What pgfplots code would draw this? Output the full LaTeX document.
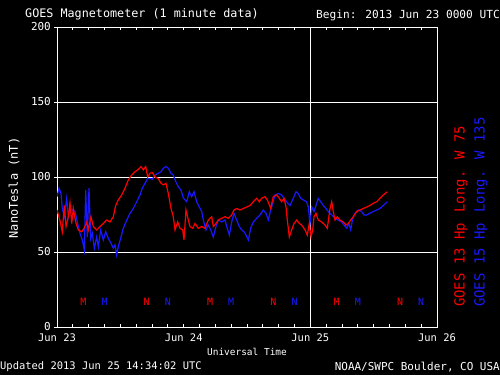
\documentclass[border=0pt]{standalone}
\usepackage{pgfplots}
\pgfplotsset{compat=1.18}
\usepackage{fontspec}
\setmainfont{DejaVu Sans Mono}
\definecolor{gred}{RGB}{255,0,0}
\definecolor{gblue}{RGB}{25,25,255}
\newcommand{\fs}[1]{\fontsize{#1}{#1}\selectfont}
\begin{document}
\begin{tikzpicture}
\useasboundingbox (-57bp,-48bp) rectangle (443bp,327bp);
\fill[black] (-57bp,-48bp) rectangle (443bp,327bp);
\begin{axis}[
  scale only axis, width=380bp, height=300bp,
  xmin=0, xmax=72, ymin=0, ymax=200,
  clip=true,
  axis line style={white, line width=0.9bp},
  xtick={0,24,48,72}, xticklabels={Jun 23,Jun 24,Jun 25,Jun 26},
  minor x tick num=7,
  ytick={0,50,100,150,200},
  ymajorgrids, grid style={white, line width=0.9bp},
  extra x ticks={48}, extra x tick labels={},
  extra x tick style={grid=major, grid style={white, line width=0.9bp}},
  xtick pos=both, xtick align=inside,
  ytick pos=left, ytick align=outside,
  major tick length=3bp, minor tick length=3bp,
  tick style={white, line width=0.8bp},
  /pgf/number format/assume math mode=true,
  xticklabel style={font=\fs{10.5}, text=white, anchor=center, yshift=-11bp, inner sep=0pt},
  yticklabel style={font=\fs{11}, text=white, anchor=east, inner sep=0pt, xshift=-3bp},
]
\addplot[gblue, line width=1.2bp] table {
0 86.9
0.38 92.5
0.76 89
1.0 79
1.38 73.5
1.84 85.8
2.14 73.5
2.46 79
2.90 78
3.41 77
3.92 69
4.36 62.5
4.79 58
5.17 51.3
5.44 91.3
5.74 60
6.06 92.5
6.39 59
6.69 62.5
7.07 52.5
7.52 60
7.83 53.5
8.28 64.7
8.77 58
9.23 63.5
9.72 59
10.23 55.8
10.67 52.5
10.99 54.7
11.31 48
11.61 53.5
12.13 60
12.56 65.8
13.21 71.3
13.83 75.8
14.46 79
15.10 83.5
15.73 88
16.16 92.5
16.67 95.8
17.18 99
17.62 99
18.06 98.5
18.57 101.3
19.19 102.5
19.71 103.5
20.14 105.8
20.65 107
21.09 105.8
21.60 102.5
22.04 101.3
22.49 97
22.98 93.5
23.49 91.3
23.93 86
24.58 83.5
25.07 90.2
25.52 86.9
25.96 90.2
26.47 83.5
26.96 80
27.42 77
27.72 71.3
28.23 64.7
28.67 68
29.12 64.7
29.61 60
30.13 67
30.56 71.3
31.21 70
31.83 71.3
32.15 67
32.65 61.3
33.10 70
33.54 75.8
34.05 71.3
34.54 67
35.00 64.7
35.43 63.5
35.81 61.3
36.25 58
36.70 65.8
37.19 70
37.84 72.5
38.46 74.7
39.09 78
39.60 75.8
40.04 71.3
40.49 78
40.87 82.5
41.31 88
41.93 89
42.57 88
43.01 85.8
43.52 83.5
44.15 81
44.77 85.8
45.28 90.2
45.72 89
46.17 85.8
46.67 84.7
47.31 83.5
47.61 80
47.94 69
48.26 80
48.69 77
49.07 81
49.51 85.8
49.96 83.5
50.46 81
50.97 79
51.40 77
52.05 74.7
52.67 72.5
53.30 71.3
53.94 70
54.38 68
54.89 65.8
55.32 69
55.65 64.7
56.03 72.5
56.46 75.8
57.09 78
57.73 77
58.17 74.7
58.68 74.7
59.30 75.8
59.93 77
60.57 78
61.20 79
61.82 81
62.58 83.5
};
\addplot[gred, line width=1.2bp] table {
0 78
0.57 71
1.0 63.5
1.38 81
1.71 67
2.14 73.5
2.46 82.7
2.79 69
3.09 79
3.54 70
4.04 64.7
4.68 63.5
5.17 66
5.63 70
5.93 64.7
6.44 73.5
6.88 67
7.52 64.7
8.15 67
8.77 69
9.42 71.3
10.04 70
10.67 73.5
11.12 81
11.61 84.7
12.26 88
12.88 92.5
13.51 98
14.15 101.3
14.78 103.5
15.40 105
15.92 107
16.35 104.7
16.81 107
17.18 100
17.62 102.5
18.06 103
18.57 100
19.19 99
19.71 95.8
20.14 94.7
20.65 95.8
21.09 89
21.60 79
22.04 73.5
22.36 64.7
22.87 70
23.31 65.8
23.82 64.7
24.06 58
24.44 78
24.88 71.3
25.20 67
25.71 65.8
26.15 69
26.77 65.8
27.42 67
28.04 65.8
28.67 71.3
29.31 73.5
29.61 67
30.13 69
30.56 71.3
31.21 72.5
31.83 73.5
32.46 72.5
33.10 74.7
33.54 78
34.05 79
34.67 78
35.30 79
35.94 80
36.57 81
37.19 83.5
37.84 85.8
38.33 83.5
38.78 85.8
39.41 86.9
39.85 84.7
40.49 79
40.98 86.9
41.63 88
42.12 85.8
42.57 83.5
43.01 85.8
43.39 80
43.64 71.3
44.02 60
44.47 64.7
44.91 69
45.42 71.3
45.91 69
46.36 68
46.99 64.7
47.42 61.3
47.80 69
48.13 60
48.45 64.7
48.69 73.5
49.07 75.8
49.51 71.3
50.15 70
50.78 68
51.21 65.8
51.73 79
52.05 83.5
52.35 77
52.67 71.3
53.11 73.5
53.62 71.3
54.25 70
54.76 68
55.19 69
55.65 71.3
56.14 73.5
56.79 77
57.41 78
58.04 79
58.68 80
59.30 81
59.93 82.5
60.57 83.5
61.20 85.8
61.82 88
62.58 90.2
};
\addplot[gred, only marks, mark=text, text mark={M}, text mark as node=true,
  text mark style={font=\fs{10}, text=gred}] coordinates {(5,17) (29,17) (53,17)};
\addplot[gred, only marks, mark=text, text mark={N}, text mark as node=true,
  text mark style={font=\fs{10}, text=gred}] coordinates {(17,17) (41,17) (65,17)};
\addplot[gblue, only marks, mark=text, text mark={M}, text mark as node=true,
  text mark style={font=\fs{10}, text=gblue}] coordinates {(9,17) (33,17) (57,17)};
\addplot[gblue, only marks, mark=text, text mark={N}, text mark as node=true,
  text mark style={font=\fs{10}, text=gblue}] coordinates {(21,17) (45,17) (69,17)};
\end{axis}
\node[anchor=west, text=white, font=\fs{11.8}, inner sep=0pt] at (-32bp,313bp) {GOES Magnetometer (1 minute data)};
\node[anchor=east, text=white, font=\fs{11.2}, inner sep=0pt] at (443bp,312bp) {Begin:  2013 Jun 23 0000 UTC};
\node[rotate=90, text=white, font=\fs{12}, inner sep=0pt] at (-43bp,139bp) {NanoTesla (nT)};
\node[text=white, font=\fs{9.5}, inner sep=0pt] at (190bp,-25bp) {Universal Time};
\node[anchor=west, text=white, font=\fs{10.5}, inner sep=0pt] at (-57bp,-40bp) {Updated 2013 Jun 25 14:34:02 UTC};
\node[anchor=east, text=white, font=\fs{11}, inner sep=0pt] at (443bp,-40bp) {NOAA/SWPC Boulder, CO USA};
\node[rotate=90, anchor=west, text=gred, font=\fs{14}, inner sep=0pt] at (404bp,20bp) {GOES 13 Hp\hspace{2bp} Long. W 75};
\node[rotate=90, anchor=west, text=gblue, font=\fs{14}, inner sep=0pt] at (424bp,20bp) {GOES 15 Hp\hspace{2bp} Long. W 135};
\end{tikzpicture}
\end{document}
